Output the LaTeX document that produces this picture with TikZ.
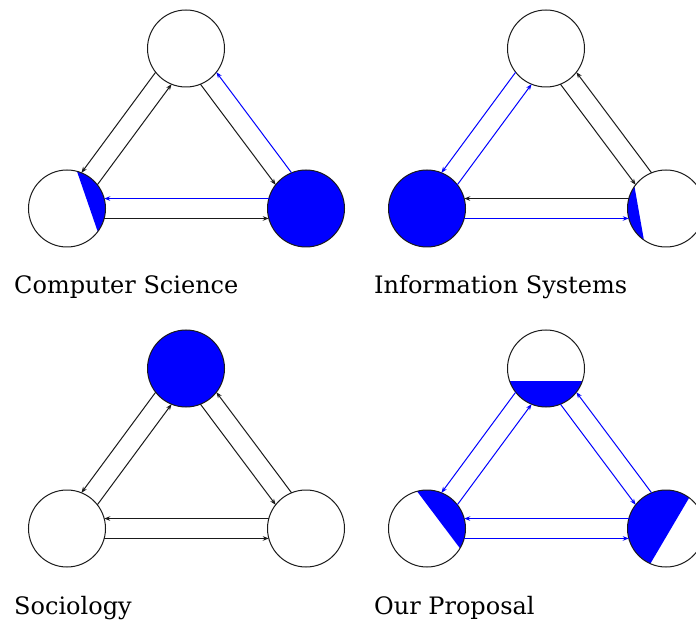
\documentclass[tikz,border=0pt]{standalone}
\usepackage{fontspec}
\setmainfont{DejaVu Serif}
\usepackage{xcolor}
\definecolor{graph-blue}{HTML}{0000FF}
\definecolor{graph-black}{HTML}{1A1A1A}
\usepackage{tikz}
\usetikzlibrary{arrows.meta}

\tikzset{
    agent/.style={circle, draw=graph-black, fill=white, line width=1pt, minimum size=77pt, inner sep=0pt, outer sep=0pt},
    full/.style={agent, fill=graph-blue},
    share/.style 2 args={agent, path picture={\fill[graph-blue] (path picture bounding box.center) ++(#1:38.5pt) arc[start angle=#1, end angle=#2, radius=38.5pt] -- cycle;}},
    link/.style={-{Stealth[length=6pt, width=4.5pt]}, line width=1pt, graph-black},
    bluelink/.style={link, graph-blue},
    caption/.style={anchor=base west, inner sep=0pt, font=\fontsize{24}{28}\selectfont}
}

\begin{document}
\begin{tikzpicture}[x=1pt, y=1pt]

    % Frame
    \clip (0, 0) rectangle (696, 619);
    \fill[white] (0, 0) rectangle (696, 619);

    % Computer Science
    \node[agent] (cs-top) at (186, 570.5) {};
    \node[share={75}{-37}] (cs-left) at (67, 410.5) {};
    \node[full] (cs-right) at (306, 410.5) {};
    \draw[link] (cs-top.218) -- (cs-left.68);
    \draw[link] (cs-left.38) -- (cs-top.248);
    \draw[link] (cs-top.292) -- (cs-right.142);
    \draw[bluelink] (cs-right.112) -- (cs-top.322);
    \draw[bluelink] (cs-right.165) -- (cs-left.15);
    \draw[link] (cs-left.345) -- (cs-right.195);
    \node[caption] (cs-label) at (14, 325) {Computer Science};

    % Information Systems
    \node[agent] (is-top) at (546, 570.5) {};
    \node[full] (is-left) at (427, 410.5) {};
    \node[share={145}{235}] (is-right) at (666, 410.5) {};
    \draw[bluelink] (is-top.218) -- (is-left.68);
    \draw[bluelink] (is-left.38) -- (is-top.248);
    \draw[link] (is-top.292) -- (is-right.142);
    \draw[link] (is-right.112) -- (is-top.322);
    \draw[link] (is-right.165) -- (is-left.15);
    \draw[bluelink] (is-left.345) -- (is-right.195);
    \node[caption] (is-label) at (374, 325) {Information Systems};

    % Sociology
    \node[full] (soc-top) at (186, 250.5) {};
    \node[agent] (soc-left) at (67, 90.5) {};
    \node[agent] (soc-right) at (306, 90.5) {};
    \draw[link] (soc-top.218) -- (soc-left.68);
    \draw[link] (soc-left.38) -- (soc-top.248);
    \draw[link] (soc-top.292) -- (soc-right.142);
    \draw[link] (soc-right.112) -- (soc-top.322);
    \draw[link] (soc-right.165) -- (soc-left.15);
    \draw[link] (soc-left.345) -- (soc-right.195);
    \node[caption] (soc-label) at (14, 5) {Sociology};

    % Our Proposal
    \node[share={199}{341}] (our-top) at (546, 250.5) {};
    \node[share={105}{-31}] (our-left) at (427, 90.5) {};
    \node[share={53}{246}] (our-right) at (666, 90.5) {};
    \draw[bluelink] (our-top.218) -- (our-left.68);
    \draw[bluelink] (our-left.38) -- (our-top.248);
    \draw[bluelink] (our-top.292) -- (our-right.142);
    \draw[bluelink] (our-right.112) -- (our-top.322);
    \draw[bluelink] (our-right.165) -- (our-left.15);
    \draw[bluelink] (our-left.345) -- (our-right.195);
    \node[caption] (our-label) at (374, 5) {Our Proposal};

\end{tikzpicture}
\end{document}
